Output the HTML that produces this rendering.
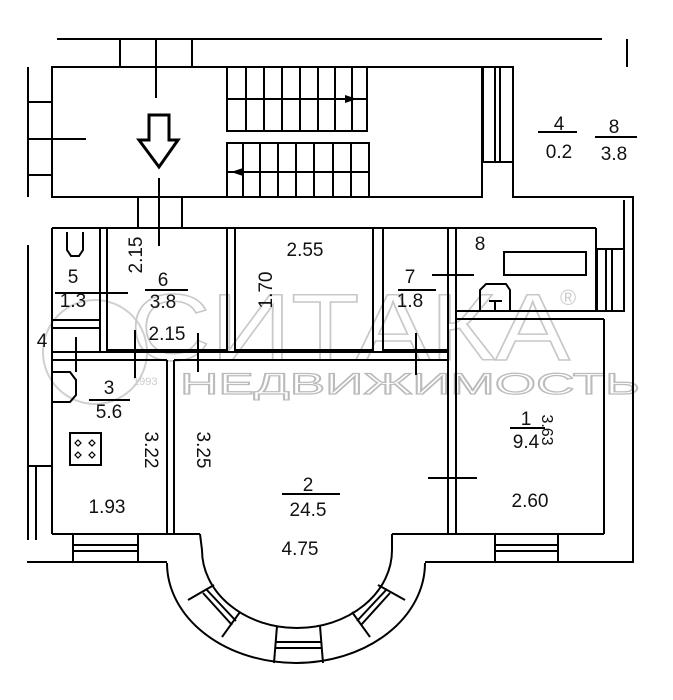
<!DOCTYPE html>
<html><head><meta charset="utf-8"><style>
html,body{margin:0;padding:0;background:#fff;}
svg{display:block;}
text{font-family:"Liberation Sans",sans-serif;fill:#111;}
</style></head><body>
<svg width="673" height="700" viewBox="0 0 673 700" xmlns="http://www.w3.org/2000/svg">
<rect width="673" height="700" fill="#fff"/>
<!-- watermark -->
<g fill="none" stroke="#d0d0d0" stroke-width="2">
<circle cx="95" cy="352" r="52"/>
</g>
<text x="130" y="360" font-size="95" style="fill:none;stroke:#c8c8c8;stroke-width:1.5" textLength="440" lengthAdjust="spacingAndGlyphs">СИТАКА</text>
<text x="560" y="305" font-size="22" style="fill:#ccc">®</text>
<text x="180" y="394" font-size="30" style="fill:none;stroke:#bbb;stroke-width:1.2" textLength="460" lengthAdjust="spacingAndGlyphs">НЕДВИЖИМОСТЬ</text>
<text x="133" y="385" font-size="11" style="fill:#ccc">1993</text>

<g stroke="#000" stroke-width="2" fill="none">
<!-- top -->
<line x1="57" y1="39" x2="602" y2="39"/>
<line x1="627" y1="39" x2="627" y2="67"/>
<line x1="120" y1="39" x2="120" y2="67"/>
<line x1="192" y1="39" x2="192" y2="67"/>
<line x1="156" y1="39" x2="156" y2="98"/>
<!-- left wall with stubs -->
<line x1="28" y1="67" x2="28" y2="197"/>
<line x1="28" y1="102" x2="52" y2="102"/>
<line x1="28" y1="175" x2="52" y2="175"/>
<line x1="28" y1="139" x2="86" y2="139"/>
<!-- hall -->
<rect x="52" y="67" width="430" height="130"/>
<!-- stairs upper -->
<rect x="227" y="67" width="140" height="64"/>
<line x1="227" y1="99" x2="367" y2="99"/>
<line x1="246" y1="67" x2="246" y2="131"/><line x1="264" y1="67" x2="264" y2="131"/><line x1="282" y1="67" x2="282" y2="131"/><line x1="300" y1="67" x2="300" y2="131"/><line x1="318" y1="67" x2="318" y2="131"/><line x1="335" y1="67" x2="335" y2="131"/><line x1="352" y1="67" x2="352" y2="131"/>
<!-- stairs lower -->
<polyline points="227,197 227,143 369,143 369,197"/>
<line x1="227" y1="172" x2="369" y2="172"/>
<line x1="243" y1="143" x2="243" y2="197"/><line x1="260" y1="143" x2="260" y2="197"/><line x1="278" y1="143" x2="278" y2="197"/><line x1="296" y1="143" x2="296" y2="197"/><line x1="314" y1="143" x2="314" y2="197"/><line x1="333" y1="143" x2="333" y2="197"/><line x1="351" y1="143" x2="351" y2="197"/>
<!-- big arrow -->
<polygon points="149,115 169,115 169,140 178,140 159,167 139,140 149,140" stroke-width="3"/>
<line x1="159" y1="178" x2="159" y2="246"/>
<!-- right upper room -->
<rect x="483" y="67" width="30" height="95"/>
<line x1="495" y1="67" x2="495" y2="162"/><line x1="500" y1="67" x2="500" y2="162"/>
<polyline points="513,162 513,197 633,197 633,562 558,562"/>
<!-- entry doorway -->
<line x1="138" y1="197" x2="138" y2="228"/>
<line x1="182" y1="197" x2="182" y2="228"/>
<!-- lower block -->
<line x1="52" y1="228" x2="596" y2="228"/>
<line x1="52" y1="228" x2="52" y2="534"/>
<line x1="28" y1="245" x2="28" y2="466"/>
<line x1="28" y1="466" x2="52" y2="466"/>
<line x1="36" y1="466" x2="36" y2="540"/>
<line x1="28" y1="466" x2="28" y2="540"/>
<!-- room 5 -->
<line x1="100" y1="228" x2="100" y2="352"/>
<line x1="107" y1="228" x2="107" y2="352"/>
<line x1="52" y1="320" x2="100" y2="320"/>
<line x1="52" y1="328" x2="100" y2="328"/>
<path d="M67,232 V250 L71,256 H79 L83,250 V232"/>
<!-- walls between rooms -->
<line x1="227" y1="228" x2="227" y2="352"/><line x1="235" y1="228" x2="235" y2="352"/>
<line x1="107" y1="350" x2="227" y2="350"/>
<line x1="235" y1="350" x2="373" y2="350"/>
<line x1="373" y1="228" x2="373" y2="352"/><line x1="383" y1="228" x2="383" y2="352"/>
<line x1="383" y1="350" x2="448" y2="350"/>
<line x1="448" y1="228" x2="448" y2="534"/><line x1="456" y1="228" x2="456" y2="534"/>
<!-- corridor strip -->
<line x1="52" y1="352" x2="448" y2="352"/>
<line x1="52" y1="360" x2="167" y2="360"/>
<line x1="174" y1="360" x2="448" y2="360"/>
<line x1="167" y1="360" x2="167" y2="534"/><line x1="174" y1="360" x2="174" y2="534"/>
<!-- room 8 -->
<line x1="596" y1="228" x2="596" y2="311"/>
<line x1="456" y1="311" x2="624" y2="311"/>
<line x1="456" y1="319" x2="604" y2="319"/>
<rect x="504" y="252" width="82" height="23"/>
<path d="M480,311 V290 L486,284 H506 L510,290 V311"/>
<line x1="489" y1="301" x2="502" y2="301"/><line x1="495" y1="301" x2="495" y2="311"/>
<rect x="597" y="249" width="27" height="62"/>
<line x1="606" y1="249" x2="606" y2="311"/><line x1="612" y1="249" x2="612" y2="311"/>
<line x1="624" y1="200" x2="624" y2="249"/>
<!-- room 1 -->
<line x1="604" y1="319" x2="604" y2="534"/>
<line x1="456" y1="534" x2="604" y2="534"/>
<!-- door marks -->
<line x1="76" y1="337" x2="76" y2="372"/>
<line x1="135" y1="330" x2="135" y2="378"/>
<line x1="198" y1="333" x2="198" y2="372"/>
<line x1="416" y1="333" x2="416" y2="375"/>
<line x1="428" y1="478" x2="477" y2="478"/>
<line x1="432" y1="275" x2="474" y2="275"/>
<line x1="100" y1="293" x2="128" y2="293"/>
<!-- kitchen stuff -->
<rect x="70" y="433" width="31" height="32"/>
<path d="M53,372 H70 L76,380 V395 L70,402 H53"/>
<!-- bottom -->
<line x1="52" y1="534" x2="200" y2="534"/>
<line x1="392" y1="534" x2="456" y2="534"/>
<line x1="27" y1="562" x2="167" y2="562"/>
<line x1="425" y1="562" x2="633" y2="562"/>
<rect x="73" y="534" width="65" height="28"/>
<line x1="73" y1="545" x2="138" y2="545"/><line x1="73" y1="551" x2="138" y2="551"/>
<rect x="495" y="534" width="63" height="28"/>
<line x1="495" y1="545" x2="558" y2="545"/><line x1="495" y1="551" x2="558" y2="551"/>
<!-- bay -->
<path d="M200,534 L202,550 A95 78 0 0 0 392,550 L392,534"/>
<path d="M167,563 A129 100 0 0 0 425,563"/>
<line x1="277" y1="626" x2="274" y2="663"/>
<line x1="320" y1="626" x2="323" y2="663"/>
<line x1="276" y1="642" x2="321" y2="642"/><line x1="276" y1="648" x2="321" y2="648"/>
<line x1="214" y1="585" x2="188" y2="600"/>
<line x1="240" y1="612" x2="222" y2="637"/>
<line x1="203" y1="593" x2="232" y2="625"/><line x1="206" y1="589" x2="236" y2="621"/>
<line x1="378" y1="585" x2="405" y2="600"/>
<line x1="352" y1="612" x2="370" y2="637"/>
<line x1="390" y1="593" x2="361" y2="625"/><line x1="387" y1="589" x2="357" y2="621"/>
<!-- underlines -->
<line x1="145" y1="290" x2="188" y2="290"/>
<line x1="55" y1="293" x2="100" y2="293"/>
<line x1="398" y1="290" x2="436" y2="290"/>
<line x1="89" y1="400" x2="130" y2="400"/>
<line x1="282" y1="494" x2="340" y2="494"/>
<line x1="510" y1="428" x2="545" y2="428"/>
<line x1="538" y1="132" x2="577" y2="132"/>
<line x1="595" y1="137" x2="637" y2="137"/>
</g>
<g fill="none" stroke="#000" stroke-width="1.2">
<path d="M78,440 l3,3 -3,3 -3,-3z M92,440 l3,3 -3,3 -3,-3z M78,452 l3,3 -3,3 -3,-3z M92,452 l3,3 -3,3 -3,-3z"/>
</g>
<!-- small stair arrows -->
<polygon points="345,95 357,99 345,103" fill="#000"/>
<polygon points="243,168 231,172 243,176" fill="#000"/>

<g font-size="19" text-anchor="middle">
<text x="559" y="130">4</text><text x="559" y="158">0.2</text>
<text x="614" y="133">8</text><text x="614" y="160">3.8</text>
<text x="305" y="256">2.55</text>
<text x="163" y="286">6</text><text x="163" y="308">3.8</text>
<text x="73" y="283">5</text><text x="73" y="307">1.3</text>
<text x="410" y="283">7</text><text x="410" y="307">1.8</text>
<text x="480" y="250">8</text>
<text x="167" y="340">2.15</text>
<text x="42" y="347">4</text>
<text x="109" y="394">3</text><text x="109" y="418">5.6</text>
<text x="107" y="513">1.93</text>
<text x="308" y="491">2</text><text x="308" y="516">24.5</text>
<text x="300" y="555">4.75</text>
<text x="526" y="425">1</text><text x="526" y="448">9.4</text>
<text x="530" y="507">2.60</text>
<text transform="translate(142,255) rotate(-90)">2.15</text>
<text transform="translate(272,290) rotate(-90)">1.70</text>
<text transform="translate(145,450) rotate(90)">3.22</text>
<text transform="translate(197,450) rotate(90)">3.25</text>
<text transform="translate(542,430) rotate(90)" font-size="16">3.63</text>
</g>
</svg>
</body></html>
